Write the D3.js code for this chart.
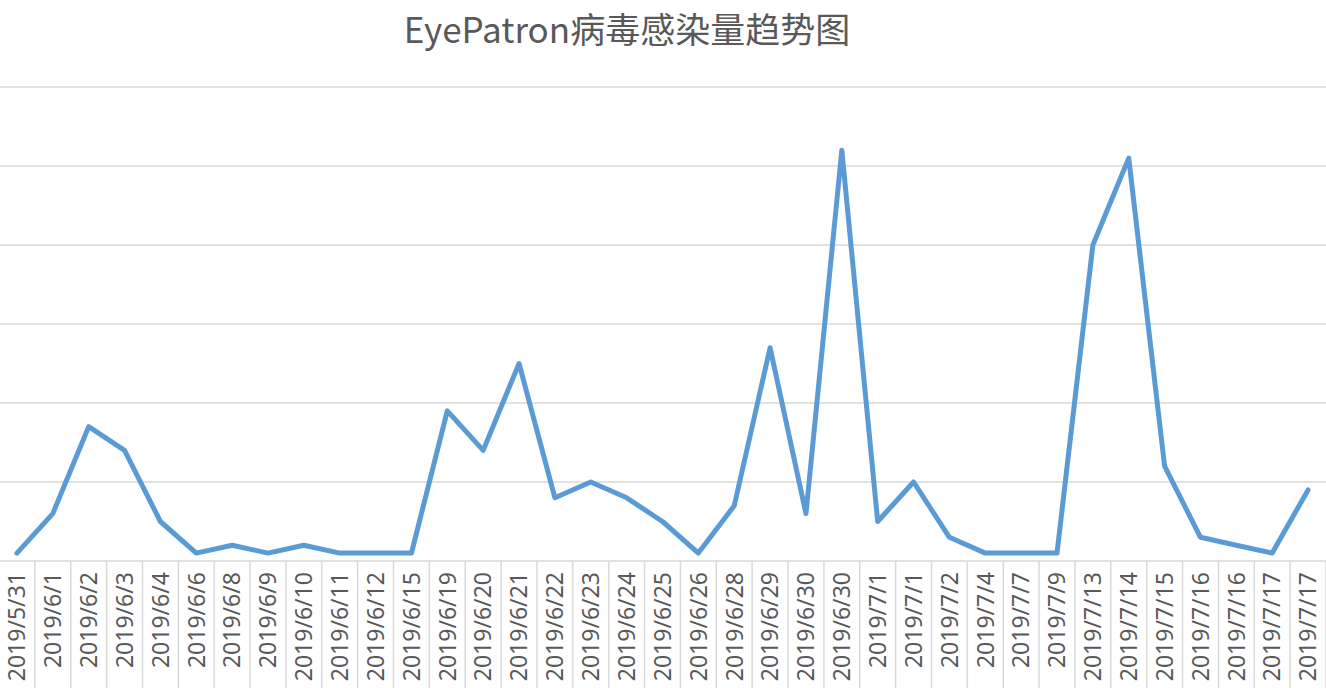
<!DOCTYPE html>
<html lang="zh">
	<head>
		<meta charset="UTF-8" />
		<title>EyePatron病毒感染量趋势图</title>
		<script src="https://d3js.org/d3.v7.min.js"></script>
		<style>
			html,
			body {
				margin: 0;
				padding: 0;
				background: #fff;
				overflow: hidden;
			}

			svg {
				display: block;
				font-family: 'Noto Sans CJK SC', 'Noto Sans', sans-serif;
			}

			.grid line {
				stroke: #d9d9d9;
				stroke-width: 1.5px;
			}

			.line {
				fill: none;
				stroke: #5b9bd5;
				stroke-width: 5px;
				stroke-linejoin: round;
				stroke-linecap: round;
			}
		</style>
	</head>
	<body>
		<svg id="chart" width="1326" height="688"></svg>
		<script type="module">
			const dates = [
				'2019/5/31', '2019/6/1', '2019/6/2', '2019/6/3', '2019/6/4',
				'2019/6/6', '2019/6/8', '2019/6/9', '2019/6/10', '2019/6/11',
				'2019/6/12', '2019/6/15', '2019/6/19', '2019/6/20', '2019/6/21',
				'2019/6/22', '2019/6/23', '2019/6/24', '2019/6/25', '2019/6/26',
				'2019/6/28', '2019/6/29', '2019/6/30', '2019/6/30', '2019/7/1',
				'2019/7/1', '2019/7/2', '2019/7/4', '2019/7/7', '2019/7/9',
				'2019/7/13', '2019/7/14', '2019/7/15', '2019/7/16', '2019/7/16',
				'2019/7/17', '2019/7/17',
			];

			const infections = [
				1, 6, 17, 14, 5,
				1, 2, 1, 2, 1,
				1, 1, 19, 14, 25,
				8, 10, 8, 5, 1,
				7, 27, 6, 52, 5,
				10, 3, 1, 1, 1,
				40, 51, 12, 3, 2,
				1, 9,
			];

			const yTicks = [0, 10, 20, 30, 40, 50, 60];

			const title = 'EyePatron病毒感染量趋势图';

			const svg = d3.select('#chart');
			const width = +svg.attr('width');
			const height = +svg.attr('height');
			const margin = { top: 87, right: 0, bottom: 127, left: -1 };
			const bottom = height - margin.bottom;

			// one band per row of the sheet, even where a date repeats
			const keys = dates.map((d, i) => i);

			const x = d3
				.scaleBand()
				.domain(keys)
				.range([margin.left, width - margin.right])
				.paddingInner(0)
				.paddingOuter(0);

			const y = d3
				.scaleLinear()
				.domain([0, d3.max(yTicks)])
				.range([bottom, margin.top]);

			// horizontal gridlines
			svg
				.append('g')
				.attr('class', 'grid')
				.selectAll('line')
				.data(yTicks)
				.enter()
				.append('line')
				.attr('x1', 0)
				.attr('x2', width)
				.attr('y1', (d) => y(d))
				.attr('y2', (d) => y(d));

			// category separators below the axis
			const edges = keys
				.map((k) => x(k))
				.concat([x(keys[keys.length - 1]) + x.bandwidth()]);
			svg
				.append('g')
				.attr('class', 'grid')
				.selectAll('line')
				.data(edges)
				.enter()
				.append('line')
				.attr('x1', (d) => d)
				.attr('x2', (d) => d)
				.attr('y1', bottom)
				.attr('y2', height);

			// x axis labels, rotated
			const xAxis = d3
				.axisBottom(x)
				.tickSize(0)
				.tickFormat((i) => dates[i]);

			const axisG = svg
				.append('g')
				.attr('transform', `translate(0,${bottom})`)
				.call(xAxis);
			axisG.select('.domain').remove();
			axisG
				.selectAll('text')
				.attr('transform', 'rotate(-90)')
				.attr('x', -11)
				.attr('y', 0)
				.attr('dy', '0.36em')
				.attr('text-anchor', 'end')
				.attr('fill', '#595959')
				.style('font-family', "'Noto Sans', sans-serif")
				.style('font-size', '23px');

			const line = d3
				.line()
				.x((d, i) => x(i) + x.bandwidth() / 2)
				.y((d) => y(d));

			svg
				.append('path')
				.datum(infections)
				.attr('class', 'line')
				.attr('d', line);

			svg
				.append('text')
				.attr('x', 627)
				.attr('y', 30)
				.attr('dy', '0.36em')
				.attr('text-anchor', 'middle')
				.attr('fill', '#595959')
				.style('font-size', '35px')
				.text(title);
		</script>
	</body>
</html>
